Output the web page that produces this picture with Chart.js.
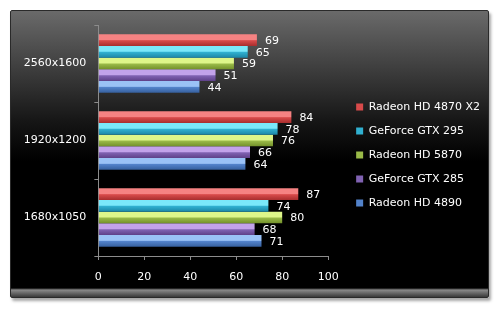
<!DOCTYPE html>
<html>
<head>
<meta charset="utf-8">
<script src="https://cdn.jsdelivr.net/npm/chart.js@4"></script>
<style>
  html, body { margin: 0; padding: 0; background: #fff; }
  #wrap { position: relative; width: 497px; height: 311px; }
  #panel {
    position: absolute; left: 10px; top: 10px; width: 477px; height: 286px;
    border: 1px solid #2a2a2a; border-radius: 2px;
    background: linear-gradient(to bottom, #6a6a6a 0px, #3c3c3c 60px, #161616 110px, #000 150px, #000 277px, #8a8a8a 279px, #3a3a3a 286px);
    box-shadow: 2px 3px 3px rgba(0,0,0,0.35);
  }
  canvas { position: absolute; left: 0; top: 0; }
</style>
</head>
<body>
<div id="wrap">
  <div id="panel"></div>
  <canvas id="chart" width="497" height="311"></canvas>
</div>
<script>
// ============================
// Data
// ============================
const resolutions = ["2560x1600", "1920x1200", "1680x1050"];
const seriesNames = ["Radeon HD 4870 X2", "GeForce GTX 295", "Radeon HD 5870", "GeForce GTX 285", "Radeon HD 4890"];
const hd4870x2 = [69, 84, 87];
const gtx295 = [65, 78, 74];
const hd5870 = [59, 76, 80];
const gtx285 = [51, 66, 68];
const hd4890 = [44, 64, 71];
const xMax = 100;
const xStep = 20;

// light / mid / dark shades for each series
const shades = [
  ["#f58282", "#d84a4a", "#a82e2e"],
  ["#7ae8fa", "#30b0d0", "#1c86a6"],
  ["#def68a", "#9aba48", "#72902a"],
  ["#c2a2ea", "#8062b2", "#5e4088"],
  ["#9ac2f6", "#5282ca", "#36609e"],
];

const FONT = { family: "DejaVu Sans", size: 11 };

// bevel gradient on every bar, taken from the bar's own geometry
const barShading = {
  id: "barShading",
  beforeDatasetsDraw(chart) {
    const ctx = chart.ctx;
    chart.data.datasets.forEach((ds, i) => {
      const s = shades[i];
      chart.getDatasetMeta(i).data.forEach((bar) => {
        const top = bar.y - bar.height / 2;
        const g = ctx.createLinearGradient(0, top, 0, top + bar.height);
        g.addColorStop(0, s[0]);
        g.addColorStop(0.45, s[0]);
        g.addColorStop(0.55, s[1]);
        g.addColorStop(1, s[2]);
        // options are shared between bars, so give each bar its own copy
        bar.options = Object.assign({}, bar.options, { backgroundColor: g });
      });
    });
  },
};

// value labels at the end of each bar
const valueLabels = {
  id: "valueLabels",
  afterDatasetsDraw(chart) {
    const ctx = chart.ctx;
    ctx.save();
    ctx.fillStyle = "#ffffff";
    ctx.font = FONT.size + "px '" + FONT.family + "'";
    ctx.textAlign = "left";
    ctx.textBaseline = "middle";
    chart.data.datasets.forEach((ds, i) => {
      chart.getDatasetMeta(i).data.forEach((bar, j) => {
        ctx.fillText(ds.data[j], bar.x + 8, bar.y + 1);
      });
    });
    ctx.restore();
  },
};

const seriesData = [hd4870x2, gtx295, hd5870, gtx285, hd4890];

const datasets = seriesData.map((values, i) => ({
  label: seriesNames[i],
  data: values,
  backgroundColor: shades[i][1],
  borderWidth: 0,
  barPercentage: 1.0,
  categoryPercentage: 0.76,
}));

Chart.defaults.font.family = FONT.family;
Chart.defaults.font.size = FONT.size;
Chart.defaults.color = "#ffffff";

new Chart(document.getElementById("chart").getContext("2d"), {
  type: "bar",
  data: { labels: resolutions, datasets },
  options: {
    indexAxis: "y",
    responsive: false,
    animation: false,
    layout: { padding: { top: 25, left: 20, right: 7, bottom: 26 } },
    plugins: {
      legend: {
        position: "right",
        align: "center",
        maxWidth: 170,
        labels: {
          boxWidth: 7,
          boxHeight: 7,
          padding: 13,
          color: "#ffffff",
          font: FONT,
        },
      },
      tooltip: { enabled: false },
    },
    scales: {
      x: {
        min: 0,
        max: xMax,
        ticks: { stepSize: xStep, padding: 11, color: "#ffffff", font: FONT },
        grid: { drawOnChartArea: false, tickLength: 4, color: "#8c8c8c" },
        border: { color: "#8c8c8c" },
        afterFit(scale) { scale.height = 29; },
      },
      y: {
        ticks: { padding: 8, color: "#ffffff", font: FONT },
        grid: { drawOnChartArea: false, tickLength: 4, color: "#8c8c8c", offset: true },
        border: { color: "#8c8c8c" },
      },
      // empty gap between plot and legend
      gap: {
        axis: "y",
        type: "linear",
        position: "right",
        display: true,
        ticks: { display: false },
        grid: { display: false },
        border: { display: false },
        afterFit(scale) { scale.width = 15; },
      },
    },
  },
  plugins: [barShading, valueLabels],
});
</script>
</body>
</html>
